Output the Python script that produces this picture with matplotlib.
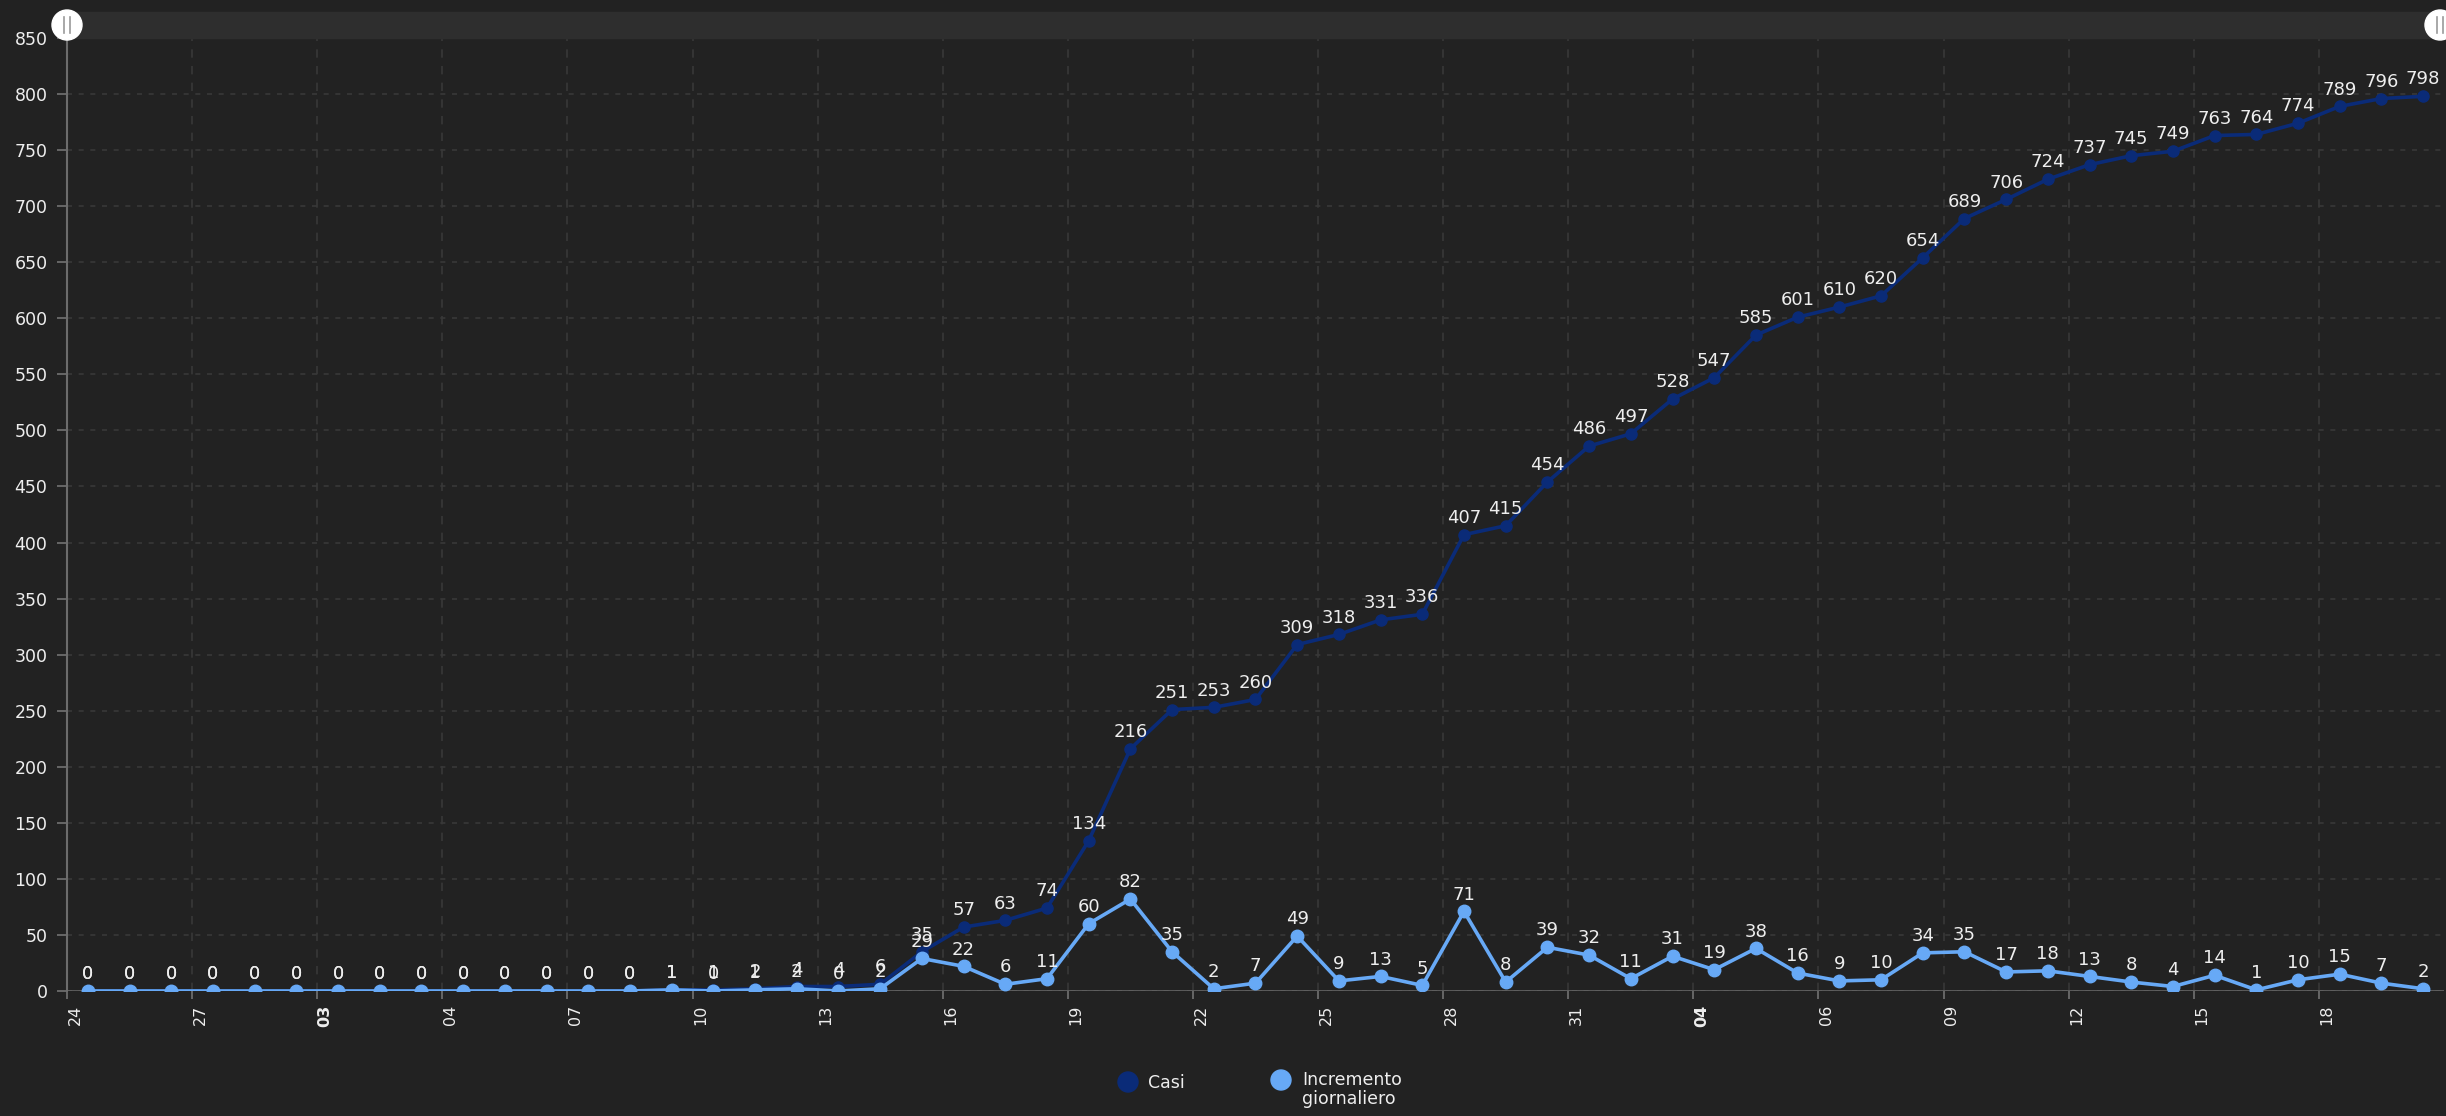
import matplotlib
matplotlib.use("Agg")
import matplotlib.pyplot as plt
import matplotlib.transforms as mtransforms
import pandas as pd
from matplotlib.patches import Circle, Rectangle

# Daily values, starting 24 Feb 2020
start_date = "2020-02-24"
casi = [0, 0, 0, 0, 0, 0, 0, 0, 0, 0, 0, 0, 0, 0,
        1, 1, 2, 4, 4, 6, 35, 57, 63, 74, 134, 216, 251, 253, 260,
        309, 318, 331, 336, 407, 415, 454, 486, 497, 528, 547, 585,
        601, 610, 620, 654, 689, 706, 724, 737, 745, 749, 763, 764,
        774, 789, 796, 798]
incremento = [0, 0, 0, 0, 0, 0, 0, 0, 0, 0, 0, 0, 0, 0,
              1, 0, 1, 2, 0, 2, 29, 22, 6, 11, 60, 82, 35, 2, 7,
              49, 9, 13, 5, 71, 8, 39, 32, 11, 31, 19, 38,
              16, 9, 10, 34, 35, 17, 18, 13, 8, 4, 14, 1,
              10, 15, 7, 2]
series_names = ["Casi", "Incremento\ngiornaliero"]

BG = "#222222"
NAVY = "#0a2b78"
LIGHT = "#67a9f6"
TXT = "#eeeeee"
GRID = "#383838"
AXIS = "#6c6c6c"

W, H = 2446, 1116
fig = plt.figure(figsize=(W / 100, H / 100), dpi=100, facecolor=BG)

left, right, top, bottom = 67, 2444, 38, 991
ax = fig.add_axes([left / W, 1 - bottom / H, (right - left) / W, (bottom - top) / H])
ax.set_facecolor(BG)

dates = pd.date_range(start_date, periods=len(casi), freq="D")
x = list(range(len(casi)))

ax.plot(x, casi, color=NAVY, lw=2.6, marker="o", ms=8, zorder=3)
ax.plot(x, incremento, color=LIGHT, lw=2.6, marker="o", ms=9, zorder=4)

for i, v in enumerate(casi):
    ax.annotate(str(v), (i, v), xytext=(0, 8.5), textcoords="offset points",
                ha="center", va="baseline", color=TXT, fontsize=13, zorder=6)
for i, v in enumerate(incremento):
    ax.annotate(str(v), (i, v), xytext=(0, 8.5), textcoords="offset points",
                ha="center", va="baseline", color=TXT, fontsize=13, zorder=6)

ax.set_xlim(-0.5, len(casi) - 0.5)
ax.set_ylim(0, 850)
ax.set_yticks(range(0, 851, 50))

# x ticks every 3 days at midnight; first tick of a new month shows the month
tick_pos, tick_lab, tick_bold = [], [], []
prev_month = None
for k in range(0, len(dates), 3):
    d = dates[k]
    tick_pos.append(k - 0.5)
    if prev_month is not None and d.month != prev_month:
        tick_lab.append(d.strftime("%m"))
        tick_bold.append(True)
    else:
        tick_lab.append(d.strftime("%d"))
        tick_bold.append(False)
    prev_month = d.month
ax.set_xticks(tick_pos)
ax.set_xticklabels(tick_lab, rotation=90)

ax.tick_params(axis="y", length=7, width=1.3, color=AXIS, labelcolor=TXT,
               labelsize=12.5, pad=7)
ax.tick_params(axis="x", length=6, width=1.3, color=AXIS, labelcolor=TXT,
               labelsize=11.5, pad=4)
shift = mtransforms.ScaledTranslation(8 / 100, 0, fig.dpi_scale_trans)
for lab, b in zip(ax.get_xticklabels(), tick_bold):
    lab.set_transform(lab.get_transform() + shift)
    if b:
        lab.set_fontweight("bold")

ax.grid(True, axis="x", color=GRID, linestyle=(0, (5, 5)), linewidth=1.2)
ax.grid(True, axis="y", color=GRID, linestyle=(0, (3, 4)), linewidth=1.2)
ax.set_axisbelow(True)
for s in ["top", "right", "bottom"]:
    ax.spines[s].set_visible(False)
ax.spines["left"].set_color(AXIS)
ax.spines["left"].set_linewidth(1.5)
ax.axhline(0, color=AXIS, lw=1.8, zorder=2)

# overlay: scrollbar and legend
ov = fig.add_axes([0, 0, 1, 1], zorder=10)
ov.set_xlim(0, W)
ov.set_ylim(H, 0)
ov.set_axis_off()
ov.patch.set_visible(False)

ov.add_patch(Rectangle((left, 12), right - left, 26, color="#2e2e2e", zorder=1))
for hx in [left, 2440]:
    ov.add_patch(Circle((hx, 25), 15, color="white", zorder=2))
    for dx in [-3, 3]:
        ov.plot([hx + dx, hx + dx], [17, 33], color="#9a9a9a", lw=1.2, zorder=3)

ov.add_patch(Circle((1128, 1082), 10, color=NAVY))
ov.text(1148, 1083, series_names[0], color=TXT, fontsize=12.5, va="center", ha="left")
ov.add_patch(Circle((1281, 1080), 10, color=LIGHT))
ov.text(1302, 1071, series_names[1], color=TXT, fontsize=12.5, va="top", ha="left",
        linespacing=1.05)

fig.savefig("out.png", dpi=100, facecolor=BG)
